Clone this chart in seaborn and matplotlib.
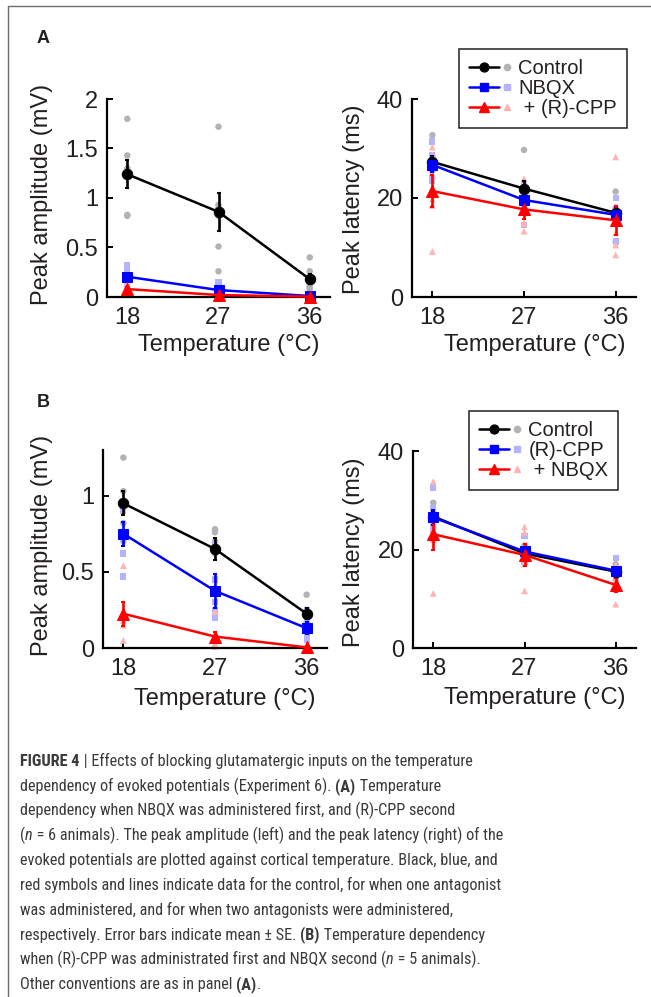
import numpy as np
import pandas as pd
import matplotlib
matplotlib.use("Agg")
import matplotlib.pyplot as plt
import seaborn as sns
from matplotlib.lines import Line2D
from matplotlib.legend_handler import HandlerBase
from matplotlib import font_manager
from matplotlib.font_manager import FontProperties

# ---------------- data ----------------
temps = [18, 27, 36]

# Panel A (NBQX first, then (R)-CPP), n = 6
A_amp_ctrl_mean = [1.24, 0.86, 0.18]
A_amp_ctrl_se = [0.14, 0.19, 0.05]
A_amp_d1_mean = [0.205, 0.07, 0.01]
A_amp_d1_se = [0.03, 0.02, 0.005]
A_amp_d2_mean = [0.08, 0.02, 0.004]
A_amp_d2_se = [0.02, 0.01, 0.003]
A_amp_ctrl_pts = [[1.80, 1.43, 1.30, 1.26, 0.83, 0.82],
                  [1.72, 0.93, 0.90, 0.82, 0.51, 0.26],
                  [0.40, 0.26, 0.14, 0.11, 0.10, 0.08]]
A_amp_d1_pts = [[0.32, 0.28, 0.22, 0.18, 0.14, 0.09],
                [0.15, 0.12, 0.08, 0.05, 0.02, 0.00],
                [0.03, 0.02, 0.01, 0.00, 0.00, 0.00]]
A_amp_d2_pts = [[0.15, 0.12, 0.08, 0.06, 0.04, 0.03],
                [0.05, 0.03, 0.02, 0.01, 0.01, 0.00],
                [0.01, 0.01, 0.00, 0.00, 0.00, 0.00]]

A_lat_ctrl_mean = [27.3, 21.9, 17.0]
A_lat_ctrl_se = [1.2, 1.6, 1.3]
A_lat_d1_mean = [26.7, 19.6, 16.6]
A_lat_d1_se = [1.5, 1.6, 1.5]
A_lat_d2_mean = [21.4, 17.7, 15.5]
A_lat_d2_se = [3.2, 2.0, 2.9]
A_lat_ctrl_pts = [[32.7, 28.5, 27.5, 26.5, 25.5, 24.0],
                  [29.7, 22.5, 21.0, 20.5, 20.0, 18.0],
                  [21.3, 18.0, 17.5, 17.0, 17.0, 11.2]]
A_lat_d1_pts = [[31.4, 28.6, 27.0, 26.0, 24.0, 23.4],
                [23.0, 21.0, 20.0, 19.5, 19.5, 14.5],
                [20.0, 17.5, 17.0, 17.0, 16.5, 11.2]]
A_lat_d2_pts = [[30.3, 28.6, 22.0, 19.8, 18.5, 9.2],
                [23.9, 23.0, 17.5, 15.0, 14.8, 13.3],
                [28.3, 17.5, 16.0, 13.0, 10.5, 8.5]]

# Panel B ((R)-CPP first, then NBQX), n = 5
B_amp_ctrl_mean = [0.95, 0.65, 0.225]
B_amp_ctrl_se = [0.08, 0.07, 0.035]
B_amp_d1_mean = [0.75, 0.375, 0.13]
B_amp_d1_se = [0.08, 0.11, 0.04]
B_amp_d2_mean = [0.225, 0.075, 0.004]
B_amp_d2_se = [0.08, 0.03, 0.003]
B_amp_ctrl_pts = [[1.25, 1.03, 0.95, 0.82, 0.70],
                  [0.78, 0.76, 0.70, 0.62, 0.39],
                  [0.35, 0.25, 0.22, 0.17, 0.14]]
B_amp_d1_pts = [[0.95, 0.90, 0.75, 0.62, 0.47],
                [0.68, 0.45, 0.30, 0.25, 0.20],
                [0.25, 0.18, 0.10, 0.07, 0.05]]
B_amp_d2_pts = [[0.54, 0.20, 0.18, 0.15, 0.05],
                [0.24, 0.05, 0.03, 0.02, 0.01],
                [0.01, 0.00, 0.00, 0.00, 0.00]]

B_lat_ctrl_mean = [26.7, 19.2, 15.5]
B_lat_ctrl_se = [1.0, 0.5, 0.6]
B_lat_d1_mean = [26.5, 19.6, 15.7]
B_lat_d1_se = [1.6, 0.9, 0.7]
B_lat_d2_mean = [23.1, 18.9, 12.8]
B_lat_d2_se = [3.3, 2.2, 1.4]
B_lat_ctrl_pts = [[29.5, 27.5, 26.5, 25.5, 24.5],
                  [20.8, 19.5, 19.0, 18.5, 18.2],
                  [17.0, 16.0, 15.5, 15.0, 13.8]]
B_lat_d1_pts = [[32.6, 28.4, 25.0, 24.0, 22.5],
                [22.7, 20.0, 19.5, 18.5, 17.5],
                [18.3, 16.0, 15.5, 15.0, 13.7]]
B_lat_d2_pts = [[33.8, 24.0, 23.5, 22.0, 11.1],
                [24.6, 23.5, 18.5, 17.1, 11.6],
                [16.9, 14.0, 13.0, 12.0, 8.9]]

A_labels = ["Control", "NBQX", " + (R)-CPP"]
B_labels = ["Control", "(R)-CPP", " + NBQX"]
amp_ticks_A = [0, 0.5, 1, 1.5, 2]
amp_ticks_B = [0, 0.5, 1]
lat_ticks = [0, 20, 40]
x_ticks = [18, 27, 36]

# ---------------- style ----------------
sns.set_style("ticks")
plt.rcParams['font.family'] = ['Liberation Sans', 'DejaVu Sans']
TXT = "#231f20"

W, H = 651, 997
fig = plt.figure(figsize=(W / 100, H / 100), dpi=100)

series_style = [
    dict(color="#000000", light="#b3b3b3", marker="o", ms=7.5, pms=22),
    dict(color="#0000ff", light="#b3b3ff", marker="s", ms=6.5, pms=20),
    dict(color="#ff0000", light="#ffb3b3", marker="^", ms=9.0, pms=24),
]


def px_axes(l, t, r, b):
    return fig.add_axes([l / W, 1 - b / H, (r - l) / W, (b - t) / H])


def draw_panel(ax, means, ses, pts, ylim, yticks, ylabel, ylab_xy, xlab_xy):
    for (p, st) in zip(pts, series_style):
        df = pd.DataFrame({"x": np.repeat(temps, [len(v) for v in p]),
                           "y": np.concatenate(p)})
        sns.scatterplot(data=df, x="x", y="y", ax=ax, color=st["light"],
                        marker=st["marker"], s=st["pms"], edgecolor="none",
                        zorder=2, clip_on=False, legend=False)
    for (m, se, st) in zip(means, ses, series_style):
        ax.errorbar(temps, m, yerr=se, fmt="none", ecolor=st["color"],
                    elinewidth=1.9, capsize=1.5, capthick=1.5, zorder=3,
                    clip_on=False)
        sns.lineplot(x=temps, y=m, ax=ax, color=st["color"], linewidth=1.8,
                     marker=st["marker"], markersize=st["ms"],
                     markeredgecolor=st["color"], markerfacecolor=st["color"],
                     zorder=4, clip_on=False)
    ax.set_xlim(16, 38)
    ax.set_ylim(*ylim)
    ax.set_xticks(x_ticks)
    ax.set_xticklabels([str(t) for t in x_ticks])
    ax.set_yticks(yticks)
    ax.set_yticklabels([f"{t:g}" for t in yticks])
    for s in ["top", "right"]:
        ax.spines[s].set_visible(False)
    for s in ["left", "bottom"]:
        ax.spines[s].set_linewidth(1.6)
        ax.spines[s].set_color("black")
    ax.tick_params(direction="in", length=4, width=1.4, colors="black",
                   labelsize=17, labelcolor=TXT)
    ax.tick_params(axis="y", pad=6.5)
    ax.tick_params(axis="x", pad=7)
    ax.set_ylabel(ylabel, fontsize=17, color=TXT)
    ax.set_xlabel("Temperature (°C)", fontsize=17, color=TXT)
    ax.yaxis.set_label_coords(*ylab_xy)
    ax.xaxis.set_label_coords(*xlab_xy)
    ax.set_facecolor("none")


axA1 = px_axes(107, 99, 330, 297)
axA2 = px_axes(412, 99, 636, 297)
axB1 = px_axes(103, 450, 327, 648)
axB2 = px_axes(413, 451, 636, 648)

draw_panel(axA1,
           [A_amp_ctrl_mean, A_amp_d1_mean, A_amp_d2_mean],
           [A_amp_ctrl_se, A_amp_d1_se, A_amp_d2_se],
           [A_amp_ctrl_pts, A_amp_d1_pts, A_amp_d2_pts],
           (0, 2), amp_ticks_A, "Peak amplitude (mV)", (-0.242, 0.52), (0.545, -0.185))
draw_panel(axA2,
           [A_lat_ctrl_mean, A_lat_d1_mean, A_lat_d2_mean],
           [A_lat_ctrl_se, A_lat_d1_se, A_lat_d2_se],
           [A_lat_ctrl_pts, A_lat_d1_pts, A_lat_d2_pts],
           (0, 40), lat_ticks, "Peak latency (ms)", (-0.21, 0.495), (0.549, -0.185))
draw_panel(axB1,
           [B_amp_ctrl_mean, B_amp_d1_mean, B_amp_d2_mean],
           [B_amp_ctrl_se, B_amp_d1_se, B_amp_d2_se],
           [B_amp_ctrl_pts, B_amp_d1_pts, B_amp_d2_pts],
           (0, 1.3), amp_ticks_B, "Peak amplitude (mV)", (-0.223, 0.52), (0.545, -0.2))
draw_panel(axB2,
           [B_lat_ctrl_mean, B_lat_d1_mean, B_lat_d2_mean],
           [B_lat_ctrl_se, B_lat_d1_se, B_lat_d2_se],
           [B_lat_ctrl_pts, B_lat_d1_pts, B_lat_d2_pts],
           (0, 40), lat_ticks, "Peak latency (ms)", (-0.215, 0.487), (0.547, -0.2))


# ---------------- legends ----------------
class LinePlusDot(HandlerBase):
    def create_artists(self, legend, orig_handle, xdescent, ydescent,
                       width, height, fontsize, trans):
        main, light = orig_handle
        y = height / 2 - ydescent
        x0 = -xdescent
        ln = Line2D([x0, x0 + 0.74 * width], [y, y], color=main.get_color(),
                    lw=main.get_linewidth())
        mk = Line2D([x0 + 0.37 * width], [y], marker=main.get_marker(),
                    color=main.get_color(), ms=main.get_markersize(), ls="none")
        dt = Line2D([x0 + 0.93 * width], [y], marker=light.get_marker(),
                    color=light.get_color(), ms=light.get_markersize(), ls="none")
        for a in (ln, mk, dt):
            a.set_transform(trans)
        return [ln, mk, dt]


def make_handles():
    hs = []
    for st in series_style:
        main = Line2D([], [], color=st["color"], lw=1.8, marker=st["marker"],
                      ms=st["ms"] * 0.85)
        light = Line2D([], [], color=st["light"], marker=st["marker"],
                       ms=4.5, ls="none")
        hs.append((main, light))
    return hs


for labels, (lx, ty) in [(A_labels, (459, 49)), (B_labels, (469, 411))]:
    leg = fig.legend(make_handles(), labels, loc="upper left",
                     bbox_to_anchor=(lx / W, 1 - ty / H),
                     bbox_transform=fig.transFigure, borderaxespad=0,
                     frameon=True, fancybox=False, edgecolor=TXT,
                     framealpha=1, fontsize=14.5, handlelength=2.0,
                     handletextpad=0.45, labelspacing=0.05, borderpad=0.5,
                     handler_map={tuple: LinePlusDot()})
    leg.get_frame().set_linewidth(1.1)
    for t in leg.get_texts():
        t.set_color(TXT)

# ---------------- panel letters and frame ----------------
fig.text(37 / W, 1 - 43 / H, "A", fontsize=13, fontweight="bold",
         color=TXT, va="baseline", ha="left")
fig.text(37 / W, 1 - 407 / H, "B", fontsize=13, fontweight="bold",
         color=TXT, va="baseline", ha="left")
fig.add_artist(Line2D([8 / W, 1], [1 - 6 / H, 1 - 6 / H], color="#6d6d6d",
                      lw=1.0, transform=fig.transFigure))
fig.add_artist(Line2D([8 / W, 8 / W], [0, 1 - 6 / H], color="#6d6d6d",
                      lw=1.0, transform=fig.transFigure))

# ---------------- caption font selection (prefer a condensed sans) ----------------
ttf = font_manager.fontManager.ttflist


def is_cond(f):
    st = str(f.stretch).lower()
    return ("condensed" in st and "extra" not in st and "ultra" not in st) or \
        ("narrow" in f.name.lower()) or ("condensed" in f.name.lower() and "extra" not in f.name.lower())


def wnum(f):
    w = f.weight
    if isinstance(w, str):
        return font_manager.weight_dict.get(w, 400)
    return int(w)


pref = ["Liberation Sans Narrow", "Roboto Condensed", "Open Sans Condensed",
        "Noto Sans", "Roboto", "Open Sans", "Liberation Sans", "DejaVu Sans", "Lato", "Inter"]


def rank(f):
    for i, p in enumerate(pref):
        if f.name.startswith(p):
            return i
    return 99


cond = [f for f in ttf if is_cond(f) and f.fname.lower().endswith((".ttf", ".otf"))]
cap_fp = {}
if cond:
    regs = [f for f in cond if f.style == "normal" and 300 <= wnum(f) <= 500]
    if regs:
        regs.sort(key=lambda f: (rank(f), abs(wnum(f) - 400)))
        reg = regs[0]
        fam = [f for f in cond if f.name == reg.name and str(f.stretch) == str(reg.stretch)]
        bolds = [f for f in fam if f.style == "normal" and wnum(f) >= 600]
        bolds.sort(key=lambda f: abs(wnum(f) - 700))
        itas = [f for f in fam if f.style != "normal" and 300 <= wnum(f) <= 500]
        cap_fp["normal"] = reg.fname
        cap_fp["bold"] = bolds[0].fname if bolds else reg.fname
        cap_fp["italic"] = itas[0].fname if itas else reg.fname


def cap_props(kind, size):
    if cap_fp:
        return FontProperties(fname=cap_fp[kind], size=size)
    fp = FontProperties(family=["Liberation Sans", "DejaVu Sans"], size=size)
    if kind == "bold":
        fp.set_weight("bold")
    if kind == "italic":
        fp.set_style("italic")
    return fp


CAP_COL = "#3a3a3a"
caption = [
    [("FIGURE 4", "bold"), (" | Effects of blocking glutamatergic inputs on the temperature", "normal")],
    [("dependency of evoked potentials (Experiment 6). ", "normal"), ("(A)", "bold"), (" Temperature", "normal")],
    [("dependency when NBQX was administered first, and (R)-CPP second", "normal")],
    [("(", "normal"), ("n", "italic"), (" = 6 animals). The peak amplitude (left) and the peak latency (right) of the", "normal")],
    [("evoked potentials are plotted against cortical temperature. Black, blue, and", "normal")],
    [("red symbols and lines indicate data for the control, for when one antagonist", "normal")],
    [("was administered, and for when two antagonists were administered,", "normal")],
    [("respectively. Error bars indicate mean ± SE. ", "normal"), ("(B)", "bold"), (" Temperature dependency", "normal")],
    [("when (R)-CPP was administrated first and NBQX second (", "normal"), ("n", "italic"), (" = 5 animals).", "normal")],
    [("Other conventions are as in panel ", "normal"), ("(A)", "bold"), (".", "normal")],
]

renderer = fig.canvas.get_renderer()


def text_width(s, size, kind):
    t = fig.text(0, 0, s + "x", fontproperties=cap_props(kind, size))
    w1 = t.get_window_extent(renderer).width
    t.set_text("x")
    w2 = t.get_window_extent(renderer).width
    t.remove()
    return w1 - w2


base = 12.0
measured = text_width(caption[5][0][0], base, "normal")
target = 482.0 if cap_fp else 500.0
cap_size = base * target / measured

y0, dy, x_start = 766, 24.8, 20
for i, runs in enumerate(caption):
    x = x_start
    y = y0 + i * dy
    for s, kind in runs:
        fig.text(x / W, 1 - y / H, s, fontproperties=cap_props(kind, cap_size),
                 color=CAP_COL, va="baseline", ha="left")
        x += text_width(s, cap_size, kind)

fig.savefig("out.png", dpi=100, facecolor="white")
